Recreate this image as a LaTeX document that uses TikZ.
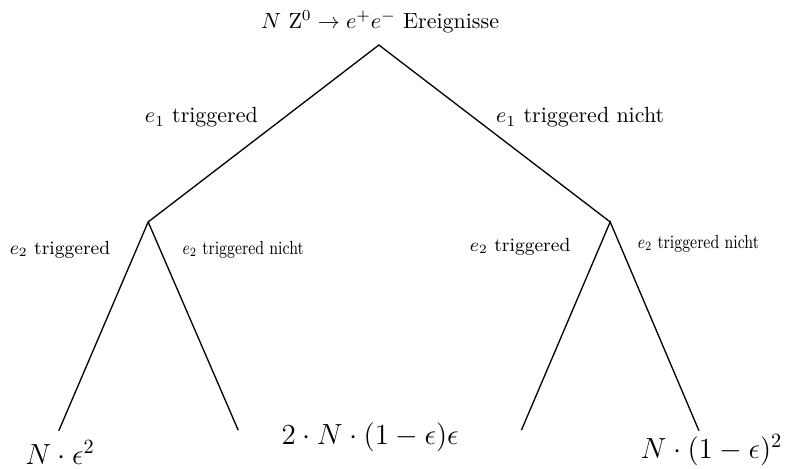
\documentclass[tikz,border=0pt]{standalone}
\usepackage{amsmath}
\tikzset{
    every path/.style={line width=0.6pt},
    branch/.style={font=\normalsize},
    subbranch/.style={font=\small, scale=0.96, transform shape},
    subbranchnicht/.style={font=\small, xscale=0.78, yscale=0.96, transform shape},
    result/.style={font=\Large, scale=0.92, transform shape}
}
\begin{document}
\begin{tikzpicture}
        \useasboundingbox (0,0) rectangle (12.62,7.50);
        \coordinate (root) at (6.06,6.78);
        \coordinate (l) at (2.37,3.95);
        \coordinate (r) at (9.76,3.95);
        \coordinate (ll) at (0.94,0.61);
        \coordinate (lr) at (3.81,0.62);
        \coordinate (rl) at (8.34,0.62);
        \coordinate (rr) at (11.18,0.61);
        \node (top) at (6.08,7.15) {$N\ \mathrm{Z}^0 \to e^+e^-$ Ereignisse};
        \draw (l) -- (root) -- (r);
        \draw (ll) -- (l) -- (lr);
        \draw (rl) -- (r) -- (rr);
        \node [branch] (eins) at (3.22,5.62) {$e_1$ triggered};
        \node [branch] (einsnicht) at (9.28,5.62) {$e_1$ triggered nicht};
        \node [subbranch] (zweiL) at (0.96,3.50) {$e_2$ triggered};
        \node [subbranchnicht] (zweinichtL) at (3.89,3.50) {$e_2$ triggered nicht};
        \node [subbranch] (zweiR) at (8.32,3.55) {$e_2$ triggered};
        \node [subbranchnicht] (zweinichtR) at (11.17,3.60) {$e_2$ triggered nicht};
        \node [result] (beide) at (0.96,0.26) {$N \cdot \epsilon^2$};
        \node [result] (einer) at (5.92,0.50) {$2 \cdot N \cdot (1-\epsilon)\epsilon$};
        \node [result] (keiner) at (11.38,0.30) {$N \cdot (1-\epsilon)^2$};
    \end{tikzpicture}
\end{document}
